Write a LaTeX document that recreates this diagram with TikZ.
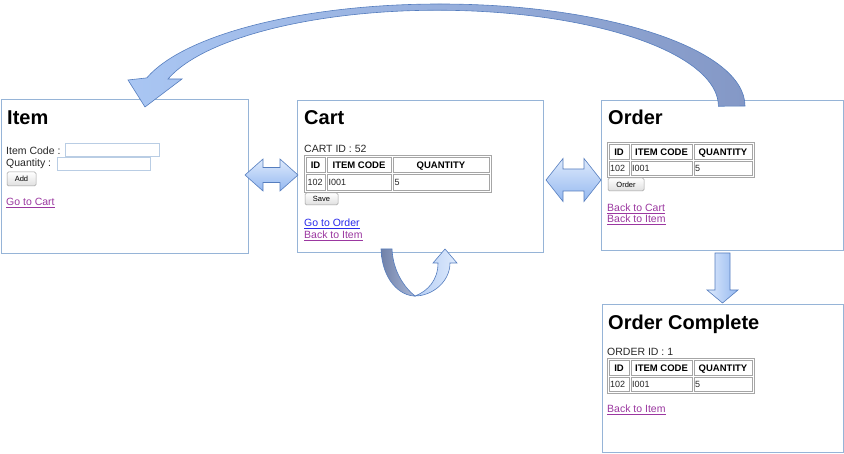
\documentclass[tikz,border=0pt]{standalone}
\usepackage{fontspec}
\setmainfont{Liberation Sans}
\usetikzlibrary{calc}

\definecolor{screenline}{RGB}{150,180,215}
\definecolor{fieldline}{RGB}{185,205,228}
\definecolor{arrowlight}{RGB}{222,234,252}
\definecolor{arrowmid}{RGB}{148,184,240}
\definecolor{arrowgrey}{RGB}{132,152,198}
\definecolor{arrowedge}{RGB}{85,125,190}
\definecolor{visited}{RGB}{155,55,160}
\definecolor{unvisited}{RGB}{40,40,235}
\definecolor{cellline}{RGB}{165,165,165}

\tikzset{
  screen/.style={draw=screenline, line width=0.8pt, fill=white, anchor=north west, inner sep=0pt},
  heading/.style={font=\fontsize{20}{24}\selectfont\bfseries, anchor=base west, inner sep=0pt},
  txt/.style={font=\fontsize{10.5}{12}\selectfont, anchor=west, inner sep=0pt, text=black!85},
  link/.style={txt, text=visited},
  field/.style={draw=fieldline, fill=white, line width=0.6pt},
  btn/.style={draw=gray!75, rounded corners=1.5pt, top color=white, bottom color=gray!25, line width=0.5pt,
    font=\fontsize{7.5}{9}\selectfont, inner sep=0pt},
  cell/.style={draw=cellline, line width=0.5pt},
  tableline/.style={draw=gray!70, line width=0.6pt},
  hcell/.style={font=\fontsize{9.5}{11}\selectfont\bfseries, anchor=base, inner sep=0pt},
  rcell/.style={font=\fontsize{9}{11}\selectfont, anchor=base west, inner sep=0pt, text=black!85},
  blockarrow/.style={draw=arrowedge, line width=0.6pt, top color=arrowlight, bottom color=arrowmid},
}

\begin{document}
\begin{tikzpicture}[x=1pt,y=-1pt]
\useasboundingbox (0,0) rectangle (844,454);

% screens
\node[screen, minimum width=247pt, minimum height=154pt] (item) at (0.5,99.5) {};
\node[screen, minimum width=246pt, minimum height=152pt] (cart) at (297,100) {};
\node[screen, minimum width=242pt, minimum height=150pt] (order) at (601,100) {};
\node[screen, minimum width=241pt, minimum height=148pt] (done) at (602,304) {};

% Item
\node[heading] (itemtitle) at (7,125) {Item};
\node[txt] (codelbl) at (6,151) {Item Code :};
\draw[field] (65,143) rectangle (159,156);
\node[txt] (qtylbl) at (6,164) {Quantity :};
\draw[field] (57,157) rectangle (150,170);
\node[btn, minimum width=29pt, minimum height=14pt] (addbtn) at (21.5,179) {Add};
\node[link] (tocart) at (6,203) {\underline{Go to Cart}};

% Cart
\node[heading] (carttitle) at (304,125) {Cart};
\node[txt] (cartid) at (304,149) {CART ID : 52};
\draw[tableline] (304,155) rectangle (491,192);
\foreach \xa/\xb/\t [count=\i] in {306/325/ID,327/391/ITEM CODE,393/489/QUANTITY}{
  \draw[cell] (\xa,157) rectangle (\xb,172);
  \node[hcell] (carth\i) at ({(\xa+\xb)/2},168.5) {\t};
}
\foreach \xa/\xb/\t [count=\i] in {306/325/102,327/391/I001,393/489/5}{
  \draw[cell] (\xa,174) rectangle (\xb,190);
  \node[rcell] (cartr\i) at (\xa+1.5,185.5) {\t};
}
\node[btn, minimum width=33pt, minimum height=12pt] (savebtn) at (321.5,199) {Save};
\node[link, text=unvisited] (toorder) at (304,224) {\underline{Go to Order}};
\node[link] (cartback) at (304,236) {\underline{Back to Item}};

% Order
\node[heading] (ordertitle) at (608,125) {Order};
\draw[tableline] (607,142) rectangle (754,177);
\foreach \xa/\xb/\t [count=\i] in {609/629/ID,631/692/ITEM CODE,694/752/QUANTITY}{
  \draw[cell] (\xa,144) rectangle (\xb,159);
  \node[hcell] (orderh\i) at ({(\xa+\xb)/2},155.5) {\t};
}
\foreach \xa/\xb/\t [count=\i] in {609/629/102,631/692/I001,694/752/5}{
  \draw[cell] (\xa,161) rectangle (\xb,175);
  \node[rcell] (orderr\i) at (\xa+1,171.5) {\t};
}
\node[btn, minimum width=36pt, minimum height=13pt] (orderbtn) at (626,184.5) {Order};
\node[link] (backcart) at (607,209) {\underline{Back to Cart}};
\node[link] (orderback) at (607,220) {\underline{Back to Item}};

% Order Complete
\node[heading] (donetitle) at (608,330) {Order Complete};
\node[txt] (orderid) at (607,352) {ORDER ID : 1};
\draw[tableline] (607,358) rectangle (754,393);
\foreach \xa/\xb/\t [count=\i] in {609/629/ID,631/692/ITEM CODE,694/752/QUANTITY}{
  \draw[cell] (\xa,360) rectangle (\xb,375);
  \node[hcell] (doneh\i) at ({(\xa+\xb)/2},371.5) {\t};
}
\foreach \xa/\xb/\t [count=\i] in {609/629/102,631/692/I001,694/752/5}{
  \draw[cell] (\xa,377) rectangle (\xb,391);
  \node[rcell] (doner\i) at (\xa+1,387.5) {\t};
}
\node[link] (doneback) at (607,410) {\underline{Back to Item}};

% block arrows
\draw[blockarrow] (245,175) -- (263,159) -- (263,167.5) -- (280,167.5) -- (280,159) -- (298,175)
  -- (280,191) -- (280,182.5) -- (263,182.5) -- (263,191) -- cycle;
\draw[blockarrow] (546,180) -- (563,158.5) -- (563,169) -- (584,169) -- (584,158.5) -- (601,180)
  -- (584,201.5) -- (584,191) -- (563,191) -- (563,201.5) -- cycle;
\draw[blockarrow, left color=arrowlight, right color=arrowmid] (715,253) -- (730,253) -- (730,290) -- (738,290)
  -- (722.5,303) -- (707,290) -- (715,290) -- cycle;

% order back to item
\draw[draw=arrowedge, line width=0.6pt, left color=arrowmid!80!white, right color=arrowgrey]
  (745,106) arc[start angle=0, end angle=-164, x radius=305, y radius=102]
  -- (128,80) -- (145,107) -- (182,79) -- (168,79)
  arc[start angle=-163.5, end angle=0, x radius=281, y radius=96] -- cycle;

% cart to cart
\draw[draw=arrowedge, line width=0.6pt, left color=arrowgrey!85!black, right color=arrowgrey!70!white]
  (381,249) .. controls (382,280) and (400,296) .. (415,296)
  .. controls (405,288) and (393,272) .. (392,249) -- cycle;
\draw[draw=arrowedge, line width=0.6pt, left color=arrowmid!70!white, right color=arrowlight]
  (415,296) .. controls (432,296) and (450,282) .. (450,263) -- (457,263) -- (445,249) -- (433,263)
  -- (438,263) .. controls (438,280) and (428,291) .. (415,296) -- cycle;

\end{tikzpicture}
\end{document}
